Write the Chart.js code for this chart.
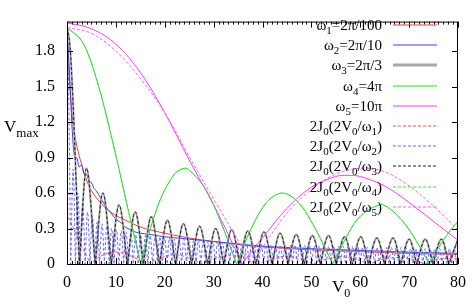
<!DOCTYPE html>
<html>
<head>
<meta charset="utf-8">
<title>Vmax vs V0</title>
<script src="https://cdn.jsdelivr.net/npm/chart.js@4.4.0/dist/chart.umd.min.js"></script>
<style>
    html, body { margin: 0; padding: 0; background: #fff; }
    #contenedor { width: 475px; height: 305px; }
</style>
</head>
<body>
<div id="contenedor"><canvas id="grafico" width="475" height="305"></canvas></div>
<script>
//DATOS
const xTicks = [0, 10, 20, 30, 40, 50, 60, 70, 80];
const yTicks = [0, 0.3, 0.6, 0.9, 1.2, 1.5, 1.8];
const yTickLabels = ["0", "0.3", "0.6", "0.9", "1.2", "1.5", "1.8"];

const etiquetas = ["ω_1=2π/100", "ω_2=2π/10", "ω_3=2π/3", "ω_4=4π", "ω_5=10π",
    "2J_0(2V_0/ω_1)", "2J_0(2V_0/ω_2)", "2J_0(2V_0/ω_3)", "2J_0(2V_0/ω_4)", "2J_0(2V_0/ω_5)"];

// w1 = 2pi/100, curva continua
const w1V0 = [0, 0.3, 0.7, 1.2, 2, 3, 4, 5, 6, 8, 10, 12, 14, 16, 20, 25, 30, 35, 40, 50, 60, 70, 80];
const w1Vmax = [2.0, 1.7, 1.45, 1.2, 1.0, 0.84, 0.71, 0.62, 0.56, 0.47, 0.41, 0.37, 0.33, 0.3, 0.26, 0.22, 0.19, 0.165, 0.145, 0.12, 0.105, 0.09, 0.08];

// w2 = 2pi/10, curva continua
const w2V0 = [0, 0.4, 0.8, 1.2, 1.6, 2.0, 2.5, 3.0, 3.5, 4.0, 4.5, 5.0, 5.5, 6.0, 7, 8, 9, 10, 11, 12, 13, 14, 15, 17, 20, 25, 30, 35, 40, 50, 60, 70, 80];
const w2Vmax = [2.0, 1.7, 1.35, 1.05, 0.9, 0.9, 0.82, 0.84, 0.76, 0.76, 0.7, 0.69, 0.64, 0.62, 0.55, 0.48, 0.43, 0.38, 0.35, 0.31, 0.29, 0.27, 0.26, 0.25, 0.23, 0.21, 0.19, 0.17, 0.15, 0.13, 0.115, 0.1, 0.09];

// w3 = 2pi/3 (arcos)
const w3InicioV0 = [0, 0.5, 1, 1.5, 2];
const w3InicioVal = [2, 1.89, 1.57, 1.1, 0.55];
const w3Ceros = [2.52, 5.78, 9.06, 12.35, 15.64, 18.92, 22.21, 25.50, 28.79, 32.08, 35.37, 38.66, 41.95, 45.24, 48.53, 51.82, 55.11, 58.40, 61.69, 64.98, 68.27, 71.56, 74.85, 78.14];
const w3PicosV0 = [4.01, 7.35, 10.65, 13.95, 17.25, 20.54, 23.83, 27.13, 30.42, 33.71, 37.0, 40.3, 43.6, 46.9, 50.2, 53.5, 56.8, 60.1, 63.4, 66.7, 70.0, 73.3, 76.6, 79.9];
const w3Picos = [0.81, 0.60, 0.50, 0.44, 0.40, 0.37, 0.34, 0.32, 0.30, 0.29, 0.28, 0.27, 0.26, 0.25, 0.24, 0.24, 0.23, 0.23, 0.22, 0.22, 0.21, 0.21, 0.21, 0.20];

// w4 = 4pi
const w4V0 = [0, 3.14, 6.28, 9.42, 12.57, 15.1, 15.71, 18.85, 21.99, 24.1, 25.13, 28.27, 31.42, 34.7, 37.70, 40.84, 43.98, 47.12, 50.27, 53.41, 54.4, 56.55, 59.69, 63.9, 65.97, 69.12, 72.26, 74.1, 75.40, 78.54, 80];
const w4Vmax = [2, 1.88, 1.53, 1.02, 0.45, 0, 0.1, 0.52, 0.76, 0.81, 0.79, 0.64, 0.36, 0, 0.30, 0.52, 0.60, 0.53, 0.34, 0.08, 0, 0.18, 0.39, 0.50, 0.47, 0.34, 0.14, 0, 0.1, 0.29, 0.36];

// w5 = 10pi
const w5V0 = [0, 5, 10, 15, 20, 25, 30, 33, 35.8, 38, 40, 45, 50, 55, 57.5, 60, 65, 70, 75, 80];
const w5Vmax = [2.04, 1.99, 1.86, 1.62, 1.28, 0.88, 0.5, 0.25, 0, 0.12, 0.22, 0.47, 0.65, 0.74, 0.75, 0.74, 0.66, 0.52, 0.36, 0.2];

// 2J0(2V0/w1) (muestreo grueso)
const j1V0 = [0, 0.15, 1, 2, 3, 4, 4.8, 7, 10, 13, 16.2, 19, 22, 25, 27.6, 30.5, 33.5, 36.5, 39, 42, 45, 48, 50.4, 53, 56, 59, 61.8, 64.5, 67.5, 70.5, 73.2, 76, 80];
const j1Val = [2, 0.42, 0.33, 0.24, 0.15, 0.07, 0, 0.07, 0.1, 0.07, 0, 0.05, 0.08, 0.05, 0, 0.05, 0.07, 0.05, 0, 0.04, 0.065, 0.04, 0, 0.04, 0.06, 0.04, 0, 0.04, 0.055, 0.04, 0, 0.04, 0.05];

// 2J0(2V0/w2)
const j2InicioV0 = [0, 0.2, 0.4, 0.6];
const j2InicioVal = [2, 1.80, 1.27, 0.55];
const j2Ceros = [0.76, 1.73, 2.72, 3.71, 4.69, 5.68, 6.67, 7.65, 8.64, 9.63,
    10.61, 11.60, 12.59, 13.57, 14.56, 15.55, 16.53, 17.52, 18.51, 19.50,
    20.48, 21.47, 22.46, 23.44, 24.43, 25.42, 26.40, 27.39, 28.38, 29.37,
    30.35, 31.34, 32.33, 33.31, 34.30, 35.29, 36.27, 37.26, 38.25, 39.24,
    40.22, 41.21, 42.20, 43.18, 44.17, 45.16, 46.14, 47.13, 48.12, 49.11,
    50.09, 51.08, 52.07, 53.05, 54.04, 55.03, 56.01, 57.00, 57.99, 58.98,
    59.96, 60.95, 61.94, 62.92, 63.91, 64.90, 65.88, 66.87, 67.86, 68.85,
    69.83, 70.82, 71.81, 72.79, 73.78, 74.77, 75.75, 76.74, 77.73, 78.72, 79.70];
const j2PicosV0 = [1.25, 2.22, 3.21, 4.20, 5.18, 6.17, 7.16, 8.14, 9.13, 10.12,
    11.10, 12.09, 13.08, 14.06, 15.05, 16.04, 17.02, 18.01, 19.00, 19.99,
    20.97, 21.96, 22.95, 23.93, 24.92, 25.91, 26.89, 27.88, 28.87, 29.86,
    30.84, 31.83, 32.82, 33.80, 34.79, 35.78, 36.76, 37.75, 38.74, 39.73,
    40.71, 41.70, 42.69, 43.67, 44.66, 45.65, 46.63, 47.62, 48.61, 49.60,
    50.58, 51.57, 52.56, 53.54, 54.53, 55.52, 56.50, 57.49, 58.48, 59.47,
    60.45, 61.44, 62.43, 63.41, 64.40, 65.39, 66.37, 67.36, 68.35, 69.34,
    70.32, 71.31, 72.30, 73.28, 74.27, 75.26, 76.24, 77.23, 78.22, 79.21, 80];
const j2Picos = [0.80, 0.60, 0.50, 0.44, 0.40, 0.36, 0.34, 0.32, 0.30, 0.29,
    0.28, 0.27, 0.26, 0.25, 0.25, 0.24, 0.24, 0.23, 0.23, 0.22,
    0.22, 0.21, 0.21, 0.21, 0.20, 0.20, 0.20, 0.19, 0.19, 0.19,
    0.19, 0.18, 0.18, 0.18, 0.18, 0.17, 0.17, 0.17, 0.17, 0.17,
    0.16, 0.16, 0.16, 0.16, 0.16, 0.16, 0.16, 0.16, 0.16, 0.16,
    0.15, 0.15, 0.15, 0.15, 0.15, 0.15, 0.15, 0.15, 0.15, 0.15,
    0.14, 0.14, 0.14, 0.14, 0.14, 0.14, 0.14, 0.14, 0.14, 0.14,
    0.13, 0.13, 0.13, 0.13, 0.13, 0.13, 0.13, 0.13, 0.13, 0.13, 0.08];

// 2J0(2V0/w4) y 2J0(2V0/w5)
const j4V0 = [0, 3.14, 6.28, 9.42, 12.57, 15.1, 15.71, 18.85, 21.99, 24.1, 25.13, 28.27, 31.42, 34.7, 37.70, 40.84, 43.98, 47.12, 50.27, 53.41, 54.4, 56.55, 59.69, 63.9, 65.97, 69.12, 72.26, 74.1, 75.40, 78.54, 80];
const j4Val = [2, 1.88, 1.53, 1.02, 0.45, 0, 0.1, 0.52, 0.76, 0.81, 0.79, 0.64, 0.36, 0, 0.30, 0.52, 0.60, 0.53, 0.34, 0.08, 0, 0.18, 0.39, 0.50, 0.47, 0.34, 0.14, 0, 0.1, 0.29, 0.36];
const j5V0 = [0, 5, 10, 15, 20, 25, 30, 35, 37.8, 40, 45, 50, 55, 60.2, 65, 70, 75, 80];
const j5Val = [2, 1.95, 1.80, 1.57, 1.28, 0.91, 0.55, 0.2, 0, 0.14, 0.43, 0.63, 0.76, 0.81, 0.78, 0.66, 0.49, 0.29];


//PUNTOS
// repite los ceros interiores para que la curva haga pico (|J0|)
function generarPuntos(xs, ys) {
    let puntos = [];
    for (let i = 0; i < xs.length; i++) {
        puntos.push({ x: xs[i], y: ys[i] });
        if (ys[i] === 0 && i > 0 && i < xs.length - 1) {
            puntos.push({ x: xs[i], y: ys[i] });
        }
    }
    return puntos;
}

function generarArcos(inicioX, inicioY, ceros, picosX, picosY) {
    let xs = inicioX.slice();
    let ys = inicioY.slice();
    for (let i = 0; i < ceros.length; i++) {
        xs.push(ceros[i]);
        ys.push(0);
        if (i < picosX.length) {
            xs.push(picosX[i]);
            ys.push(picosY[i]);
        }
    }
    return generarPuntos(xs, ys);
}

function serie(indice, puntos, color, ancho, guiones) {
    return {
        label: etiquetas[indice],
        data: puntos,
        borderColor: color,
        borderWidth: ancho,
        borderDash: guiones,
        pointRadius: 0,
        tension: 0.35,
        fill: false,
        order: 20 - indice
    };
}

const guion = [3, 2];
const datasets = [
    serie(0, generarPuntos(w1V0, w1Vmax), "#ff3a3a", 1, []),
    serie(1, generarPuntos(w2V0, w2Vmax), "#3c3cff", 1, []),
    serie(2, generarArcos(w3InicioV0, w3InicioVal, w3Ceros, w3PicosV0, w3Picos), "#a8a8a8", 2, []),
    serie(3, generarPuntos(w4V0, w4Vmax), "#22e022", 1, []),
    serie(4, generarPuntos(w5V0, w5Vmax), "#ff3aff", 1, []),
    serie(5, generarPuntos(j1V0, j1Val), "#ff5050", 1, guion),
    serie(6, generarArcos(j2InicioV0, j2InicioVal, j2Ceros, j2PicosV0, j2Picos), "#6a6aff", 1, guion),
    serie(7, generarArcos(w3InicioV0, w3InicioVal, w3Ceros, w3PicosV0, w3Picos), "#202020", 1, guion),
    serie(8, generarPuntos(j4V0, j4Val), "#44e044", 1, guion),
    serie(9, generarPuntos(j5V0, j5Val), "#ff5aff", 1, guion)
];


//TEXTO CON SUBINDICES
const fuente = '"Liberation Serif", "Times New Roman", serif';

function partirTexto(texto) {
    let partes = [];
    for (let i = 0; i < texto.length; i++) {
        if (texto[i] === "_") {
            partes.push({ t: texto[i + 1], sub: true });
            i++;
        } else {
            partes.push({ t: texto[i], sub: false });
        }
    }
    return partes;
}

function anchoTexto(ctx, partes, tam, tamSub) {
    let total = 0;
    partes.forEach(p => {
        ctx.font = (p.sub ? tamSub : tam) + "px " + fuente;
        total += ctx.measureText(p.t).width;
    });
    return total;
}

function dibujarTexto(ctx, partes, x, y, tam, tamSub, bajada) {
    ctx.textAlign = "left";
    ctx.textBaseline = "alphabetic";
    ctx.fillStyle = "#000";
    partes.forEach(p => {
        ctx.font = (p.sub ? tamSub : tam) + "px " + fuente;
        ctx.fillText(p.t, x, p.sub ? y + bajada : y);
        x += ctx.measureText(p.t).width;
    });
}


//MARCO, TICKS Y LEYENDA
const marcoGnuplot = {
    id: "marcoGnuplot",
    afterDatasetsDraw(chart) {
        const ctx = chart.ctx;
        const area = chart.chartArea;
        const ejeX = chart.scales.x;
        const ejeY = chart.scales.y;
        ctx.save();
        ctx.strokeStyle = "#000";
        ctx.lineWidth = 1;
        ctx.setLineDash([]);
        ctx.strokeRect(area.left + 0.5, area.top + 0.5, area.right - area.left - 1, area.bottom - area.top);

        ctx.beginPath();
        for (let v = 0; v <= 80; v++) {
            let px = Math.round(ejeX.getPixelForValue(v)) + 0.5;
            let largo = (v % 10 === 0) ? 6 : 3;
            ctx.moveTo(px, area.bottom);
            ctx.lineTo(px, area.bottom - largo);
            ctx.moveTo(px, area.top);
            ctx.lineTo(px, area.top + largo);
        }
        yTicks.forEach(v => {
            let py = Math.round(ejeY.getPixelForValue(v)) + 0.5;
            ctx.moveTo(area.left, py);
            ctx.lineTo(area.left + 6, py);
            ctx.moveTo(area.right, py);
            ctx.lineTo(area.right - 6, py);
        });
        ctx.stroke();
        ctx.restore();
    },
    afterDraw(chart) {
        const ctx = chart.ctx;
        ctx.save();
        // leyenda
        chart.data.datasets.forEach((ds, i) => {
            let yFila = 25 + i * 20.2;
            let partes = partirTexto(ds.label);
            let ancho = anchoTexto(ctx, partes, 15, 11);
            dibujarTexto(ctx, partes, 382 - ancho, yFila + 5, 15, 11, 4);
            ctx.strokeStyle = ds.borderColor;
            ctx.lineWidth = ds.borderWidth === 2 ? 3 : 1.2;
            ctx.setLineDash(ds.borderDash);
            ctx.beginPath();
            ctx.moveTo(393, Math.round(yFila));
            ctx.lineTo(437, Math.round(yFila));
            ctx.stroke();
        });
        ctx.setLineDash([]);
        // titulos de los ejes
        dibujarTexto(ctx, [{ t: "V", sub: false }, { t: "max", sub: true }], 4, 132, 17, 13, 5);
        dibujarTexto(ctx, [{ t: "V", sub: false }, { t: "0", sub: true }], 332, 292, 17, 12, 5);
        ctx.restore();
    }
};


//GRAFICO
const grafico = new Chart(document.getElementById("grafico"), {
    type: "line",
    data: { datasets: datasets },
    options: {
        responsive: false,
        animation: false,
        devicePixelRatio: 1,
        layout: { padding: { top: 11, right: 17, left: 0, bottom: 0 } },
        plugins: {
            legend: { display: false },
            tooltip: { enabled: false }
        },
        scales: {
            x: {
                type: "linear",
                min: 0,
                max: 80,
                grid: { display: false, drawTicks: false },
                border: { display: false },
                afterBuildTicks: (eje) => { eje.ticks = xTicks.map(v => ({ value: v })); },
                afterFit: (eje) => { eje.height = 41; },
                ticks: {
                    padding: 9,
                    maxRotation: 0,
                    autoSkip: false,
                    color: "#000",
                    font: { family: fuente, size: 16 },
                    callback: (v) => String(v)
                }
            },
            y: {
                type: "linear",
                min: 0,
                max: 2.05,
                grid: { display: false, drawTicks: false },
                border: { display: false },
                afterBuildTicks: (eje) => { eje.ticks = yTicks.map(v => ({ value: v })); },
                afterFit: (eje) => { eje.width = 67; },
                ticks: {
                    padding: 12,
                    autoSkip: false,
                    color: "#000",
                    font: { family: fuente, size: 16 },
                    callback: (v, i) => yTickLabels[i]
                }
            }
        }
    },
    plugins: [marcoGnuplot]
});
</script>
</body>
</html>
